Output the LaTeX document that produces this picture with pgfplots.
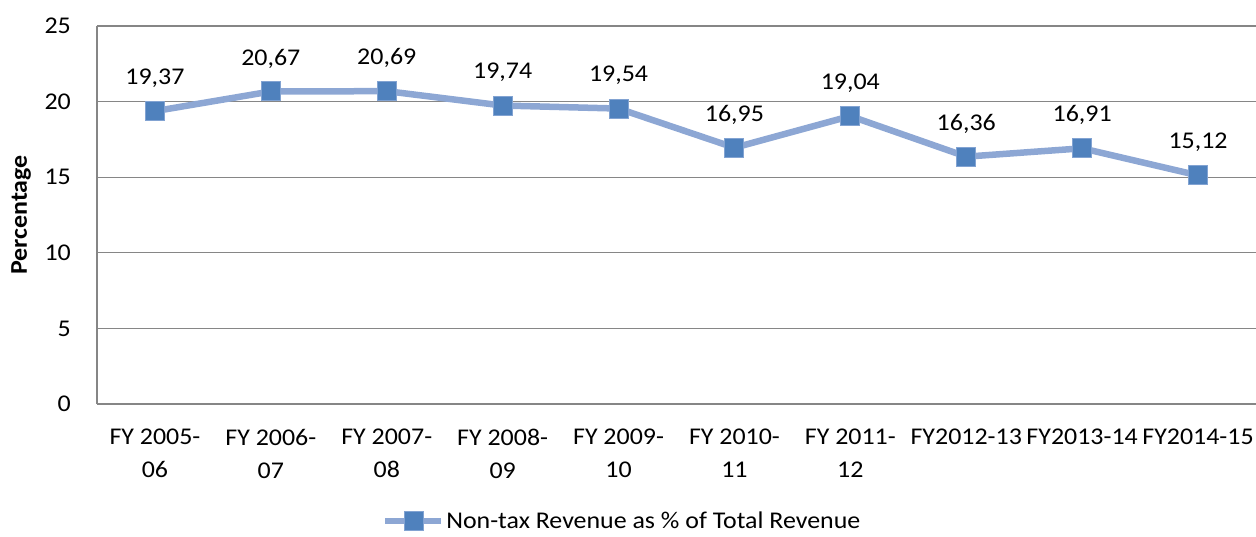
\documentclass[border=0pt]{standalone}
\usepackage{fontspec}
\setmainfont{Carlito}[FakeStretch=1.08]
\usepackage{pgfplots}
\pgfplotsset{compat=1.18}
\definecolor{linecol}{RGB}{141,167,212}
\definecolor{markfill}{RGB}{79,129,189}
\definecolor{markdraw}{RGB}{130,163,210}
\definecolor{gridcol}{RGB}{134,134,134}
\begin{document}
\begin{tikzpicture}
\begin{axis}[
  at={(0,0)}, anchor=south west,
  scale only axis,
  width=1159bp, height=378bp,
  font=\fontsize{24bp}{33bp}\selectfont,
  xmin=-0.5, xmax=9.5,
  ymin=0, ymax=25,
  ytick={0,5,10,15,20,25},
  xtick={0,...,9},
  xticklabels={{FY 2005-\\06},{FY 2006-\\07},{FY 2007-\\08},{FY 2008-\\09},{FY 2009-\\10},{FY 2010-\\11},{FY 2011-\\12},{FY2012-13},{FY2013-14},{FY2014-15}},
  x tick label style={align=center, anchor=north, inner sep=0pt, yshift=-25bp, font=\fontsize{24bp}{33bp}\selectfont},
  y tick label style={anchor=east, inner sep=0pt, xshift=-26bp, font=\fontsize{24bp}{29bp}\selectfont},
  /pgf/number format/assume math mode=true,
  major tick length=0pt,
  axis x line*=bottom, axis y line*=left,
  axis line style={draw=gridcol, line width=1.2bp, -},
  ymajorgrids=true,
  grid style={draw=gridcol, line width=1.2bp},
  ylabel={\textbf{Percentage}},
  ylabel style={at={(axis description cs:-0.0655,0.5)}, anchor=center, font=\fontsize{24bp}{28bp}\selectfont},
  nodes near coords={\pgfmathprintnumber[fixed,fixed zerofill,precision=2,use comma]{\pgfplotspointmeta}},
  every node near coord/.append style={anchor=center, yshift=33bp, inner sep=0pt, text=black, font=\fontsize{24bp}{29bp}\selectfont},
  legend style={at={(axis description cs:0.453,-0.31)}, anchor=center, draw=none, fill=none, font=\fontsize{24bp}{29bp}\selectfont, inner sep=0pt},
  legend cell align=left,
  legend image code/.code={
    \draw[linecol, line width=6.5bp] (0bp,0bp) -- (56bp,0bp);
    \draw[draw=markdraw, fill=markfill, line width=1bp] (19bp,-9.5bp) rectangle (38bp,9.5bp);
  },
  clip=false,
]
\addplot[color=linecol, line width=6.5bp, mark=square*, mark size=9.5bp,
  mark options={draw=markdraw, fill=markfill, line width=1bp}]
  coordinates {(0,19.37) (1,20.67) (2,20.69) (3,19.74) (4,19.54) (5,16.95) (6,19.04) (7,16.36) (8,16.91) (9,15.12)};
\addlegendentry{Non-tax Revenue as \% of Total Revenue}
\end{axis}
\pgfresetboundingbox
\path[use as bounding box] (-97bp,-133bp) rectangle (1159bp,404bp);
\end{tikzpicture}
\end{document}
